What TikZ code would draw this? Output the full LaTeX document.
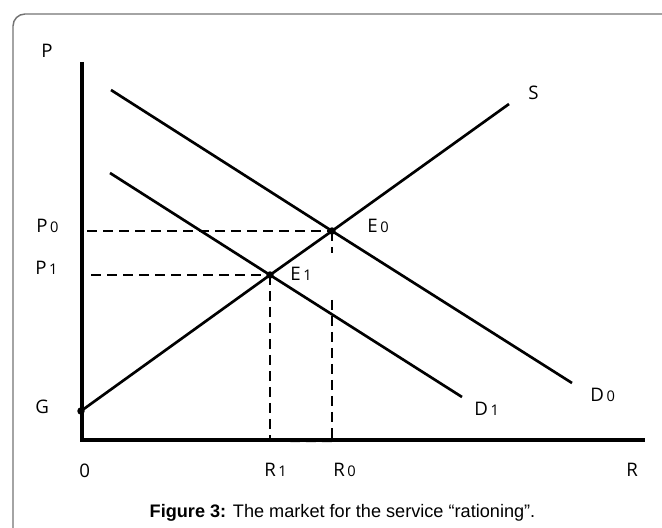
\documentclass[tikz,border=0pt]{standalone}
\usepackage{fontspec}
\setmainfont{Open Sans}
\newfontfamily\capfont{Liberation Sans}
\usetikzlibrary{positioning}

% small index after a label letter
\newcommand{\idx}[1]{\hspace{2pt}{\fontsize{11}{12}\selectfont #1}}

\begin{document}
\begin{tikzpicture}[
        x=0.75pt, y=-0.75pt,
        frame/.style={draw=black!55, line width=1.1pt, rounded corners=9pt},
        axis/.style={line width=2.4pt},
        curve/.style={line width=2pt},
        guide/.style={line width=2pt, dash pattern=on 7.5pt off 4.5pt},
        lbl/.style={anchor=base west, inner sep=0pt, font=\fontsize{14}{16}\selectfont},
        every node/.style={draw=none, align=center}
    ]
        \clip (0,0) rectangle (662,528);
        \draw[frame] (13,560) -- (13,14) -- (700,14);

        % points
        \coordinate (O) at (82,440);
        \coordinate (Ptop) at (82,62);
        \coordinate (Rend) at (645,440);
        \coordinate (G) at (81,411);
        \coordinate (E0) at (332,231);
        \coordinate (E1) at (270,275);
        \coordinate (Send) at (509,104);
        \coordinate (Dzstart) at (111,90);
        \coordinate (Dzend) at (572,383);
        \coordinate (Dostart) at (110,173);
        \coordinate (Doend) at (462,397);
        \coordinate (Pzero) at (87,231);
        \coordinate (Pone) at (91,275);
        \coordinate (Rone) at (270,440);
        \coordinate (Rzero) at (332,440);
        \coordinate (Rzerogap) at (332,253);
        \coordinate (Rzerocont) at (332,300);

        % guides
        \draw[guide] (Pzero) -- (E0);
        \draw[guide] (Pone) -- (E1);
        \draw[guide] (E1) -- (Rone);
        \draw[guide] (E0) -- (Rzerogap);
        \draw[guide] (Rzerocont) -- (Rzero);
        \draw[guide] (81,278) -- (81,441);
        \draw[guide] (O) -- ([yshift=-0.6pt]Rzero);

        % axes
        \draw[axis] (Ptop) -- (O) -- (Rend);

        % supply and demand
        \draw[curve] (G) -- (E1) -- (E0) -- (Send);
        \draw[curve] (Dzstart) -- (E0) -- (Dzend);
        \draw[curve] (Dostart) -- (E1) -- (Doend);
        \fill (G) circle[radius=2.8pt];
        \fill (E0) circle[radius=2.8pt];
        \fill (E1) circle[radius=2.8pt];

        % labels
        \node[lbl] (lblP) at (41,58) {P};
        \node[lbl] (lblPzero) at (36,233) {P\idx{0}};
        \node[lbl] (lblPone) at (35,275) {P\idx{1}};
        \node[lbl] (lblG) at (35,413) {G};
        \node[lbl] (lblO) at (79,477) {0};
        \node[lbl] (lblRone) at (264,476) {R\idx{1}};
        \node[lbl] (lblRzero) at (333,476) {R\idx{0}};
        \node[lbl] (lblR) at (626,476) {R};
        \node[lbl] (lblS) at (528,100) {S};
        \node[lbl] (lblEzero) at (367,233) {E\idx{0}};
        \node[lbl] (lblEone) at (290,281) {E\idx{1}};
        \node[lbl] (lblDone) at (474,416) {D\idx{1}};
        \node[lbl] (lblDzero) at (590,402) {D\idx{0}};

        \node[anchor=base, inner sep=0pt, font=\capfont\fontsize{13.6}{15}\selectfont] (caption) at (342.5,517.7)
            {\textbf{Figure 3:} The market for the service “rationing”.};
    \end{tikzpicture}
\end{document}
